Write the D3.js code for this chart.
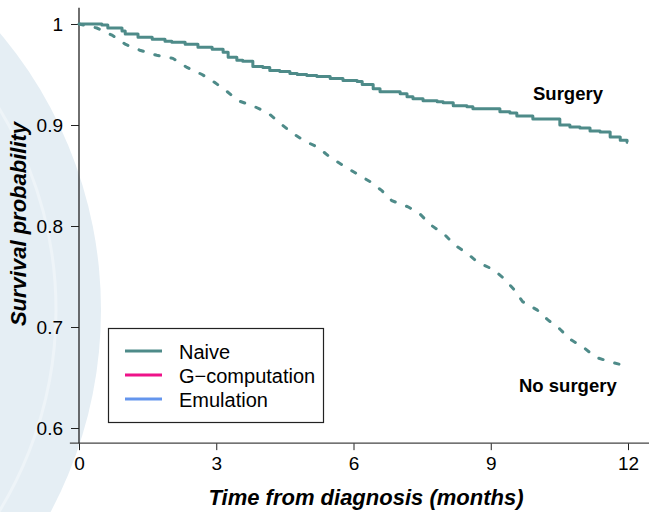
<!DOCTYPE html>
<html lang="en">
<head>
  <meta charset="UTF-8" />
  <title>Survival by surgery</title>
  <script src="https://d3js.org/d3.v7.min.js"></script>
  <style>
    body {
      margin: 0;
      background: #fff;
      font-family: "Liberation Sans", Arial, sans-serif;
    }
    svg { display: block; }
    .axis text { font-family: "Liberation Sans", Arial, sans-serif; fill: #000; }
  </style>
</head>
<body>
  <div id="chart"></div>
  <script>
    // Kaplan-Meier estimates (time in months)
    const surgeryTime = [0, 0.50, 0.63, 0.94, 1.01, 1.29, 1.60, 1.88, 2.03, 2.32, 2.60, 2.91, 3.15, 3.26, 3.45, 3.58, 3.80, 4.02, 4.17, 4.39, 4.61, 4.77, 4.98, 5.20, 5.49, 5.77, 6.08, 6.19, 6.43, 6.58, 7.02, 7.17, 7.30, 7.52, 7.83, 7.96, 8.18, 8.48, 8.61, 9.20, 9.42, 9.57, 9.92, 10.51, 10.73, 10.95, 11.17, 11.39, 11.61, 11.83, 11.98, 12];
    const surgerySurv = [1, 0.999, 0.996, 0.993, 0.990, 0.987, 0.985, 0.983, 0.982, 0.980, 0.977, 0.975, 0.972, 0.967, 0.964, 0.963, 0.958, 0.957, 0.954, 0.953, 0.951, 0.950, 0.949, 0.948, 0.946, 0.944, 0.943, 0.940, 0.936, 0.933, 0.931, 0.928, 0.926, 0.924, 0.923, 0.922, 0.919, 0.918, 0.916, 0.913, 0.912, 0.909, 0.906, 0.900, 0.898, 0.897, 0.894, 0.893, 0.888, 0.885, 0.883, 0.883];

    const noSurgeryTime = [0, 0.39, 0.72, 1.01, 1.33, 1.70, 2.05, 2.36, 2.69, 2.97, 3.24, 3.48, 3.80, 4.13, 4.39, 4.66, 4.94, 5.22, 5.49, 5.77, 6.06, 6.36, 6.62, 6.84, 7.19, 7.45, 7.69, 7.98, 8.22, 8.48, 8.72, 9.05, 9.29, 9.51, 9.70, 10.01, 10.25, 10.51, 10.73, 11.02, 11.30, 11.65, 12];
    const noSurgerySurv = [1, 0.996, 0.989, 0.980, 0.974, 0.969, 0.966, 0.957, 0.950, 0.942, 0.933, 0.924, 0.919, 0.912, 0.902, 0.892, 0.884, 0.878, 0.868, 0.860, 0.852, 0.844, 0.835, 0.825, 0.819, 0.812, 0.801, 0.792, 0.781, 0.773, 0.764, 0.757, 0.748, 0.737, 0.725, 0.717, 0.707, 0.698, 0.688, 0.680, 0.670, 0.665, 0.661];

    const xTicks = [0, 3, 6, 9, 12];
    const yTicks = [0.6, 0.7, 0.8, 0.9, 1];

    const legendLabels = ["Naive", "G\u2212computation", "Emulation"];
    const legendColors = ["#4e8b89", "#ee1289", "#6495ed"];

    const W = 649, H = 512;
    const teal = "#4e8b89";

    const svg = d3.select("#chart").append("svg")
      .attr("width", W).attr("height", H);

    // faint watermark in the background
    const wm = svg.append("g");
    wm.append("circle").attr("cx", -329).attr("cy", 310).attr("r", 430).attr("fill", "#e5eef4");
    wm.append("circle").attr("cx", -329).attr("cy", 310).attr("r", 385)
      .attr("fill", "none").attr("stroke", "#eef4f8").attr("stroke-width", 3);

    const x = d3.scaleLinear().domain([0, 12]).range([79, 628]);
    const y = d3.scaleLinear().domain([0.6, 1]).range([428, 24]);

    // axes (L-shaped frame)
    const xAxis = svg.append("g").attr("class", "axis")
      .attr("transform", `translate(0,${y(0.585)})`)
      .call(d3.axisBottom(x).tickValues(xTicks).tickSize(7).tickPadding(6).tickFormat(d3.format("d")));
    xAxis.select(".domain").remove();
    xAxis.selectAll("line").attr("stroke", "#222");
    xAxis.selectAll("text").style("font-size", "19px");
    svg.append("line")
      .attr("x1", x(-0.2)).attr("x2", x(12.46))
      .attr("y1", y(0.585)).attr("y2", y(0.585))
      .attr("stroke", "#444").attr("stroke-width", 1.3);

    const yAxis = svg.append("g").attr("class", "axis")
      .attr("transform", `translate(${x(0)},0)`)
      .call(d3.axisLeft(y).tickValues(yTicks).tickSize(8).tickPadding(8)
        .tickFormat(d => d === 1 ? "1" : d.toFixed(1)));
    yAxis.select(".domain").remove();
    yAxis.selectAll("line").attr("stroke", "#222");
    yAxis.selectAll("text").style("font-size", "19px");
    svg.append("line")
      .attr("x1", x(0)).attr("x2", x(0))
      .attr("y1", y(1.016)).attr("y2", y(0.585))
      .attr("stroke", "#222").attr("stroke-width", 1.3);

    // survival curves
    const stepLine = d3.line()
      .x(d => x(d[0]))
      .y(d => y(d[1]))
      .curve(d3.curveStepAfter);
    // the no-surgery curve has many tiny steps, drawn dashed it reads as a slope
    const slopeLine = d3.line()
      .x(d => x(d[0]))
      .y(d => y(d[1]));

    svg.append("path")
      .datum(noSurgeryTime.map((t, i) => [t, noSurgerySurv[i]]))
      .attr("d", slopeLine)
      .attr("fill", "none")
      .attr("stroke", teal)
      .attr("stroke-width", 3)
      .attr("stroke-linecap", "round")
      .attr("stroke-dasharray", "4.5,12");

    svg.append("path")
      .datum(surgeryTime.map((t, i) => [t, surgerySurv[i]]))
      .attr("d", stepLine)
      .attr("fill", "none")
      .attr("stroke", teal)
      .attr("stroke-width", 3)
      .attr("stroke-linejoin", "round");

    // curve labels
    svg.append("text").attr("x", 533).attr("y", 100)
      .style("font-size", "18.5px").style("font-weight", "bold").text("Surgery");
    svg.append("text").attr("x", 519).attr("y", 392)
      .style("font-size", "18.5px").style("font-weight", "bold").text("No surgery");

    // legend
    const legend = svg.append("g");
    legend.append("rect")
      .attr("x", 108.5).attr("y", 328.5).attr("width", 215).attr("height", 94)
      .attr("fill", "#fff").attr("stroke", "#222").attr("stroke-width", 1.2);
    legendLabels.forEach((lab, i) => {
      const yy = 351 + i * 24;
      legend.append("line")
        .attr("x1", 125).attr("x2", 162).attr("y1", yy).attr("y2", yy)
        .attr("stroke", legendColors[i]).attr("stroke-width", 3.2);
      legend.append("text")
        .attr("x", 179).attr("y", yy + 7.5)
        .style("font-size", "20px").text(lab);
    });

    // axis titles
    svg.append("text")
      .attr("x", 366).attr("y", 505)
      .attr("text-anchor", "middle")
      .style("font-size", "22px").style("font-weight", "bold").style("font-style", "italic")
      .text("Time from diagnosis (months)");
    svg.append("text")
      .attr("transform", "translate(26,224) rotate(-90)")
      .attr("text-anchor", "middle")
      .style("font-size", "22px").style("font-weight", "bold").style("font-style", "italic")
      .text("Survival probability");
  </script>
</body>
</html>
